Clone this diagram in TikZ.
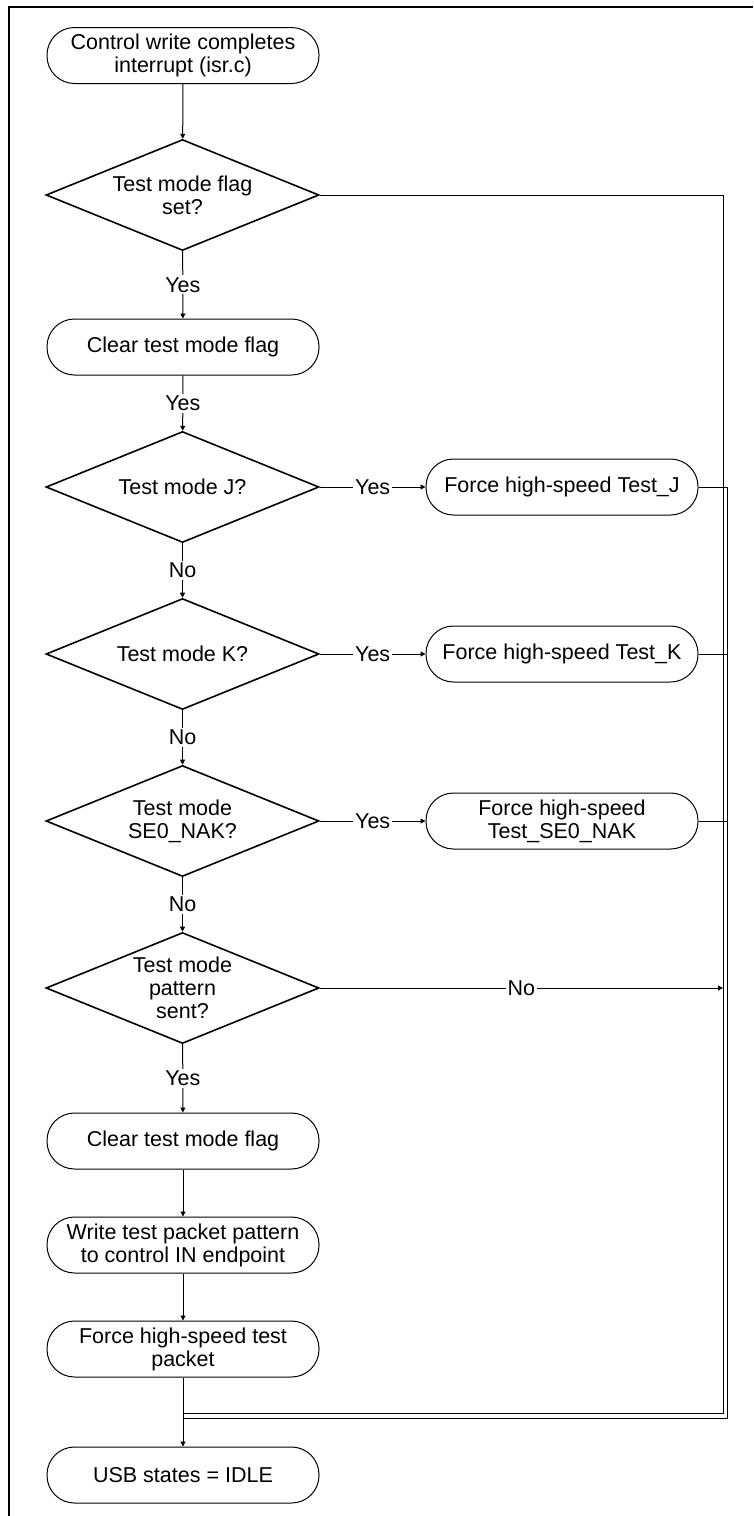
\documentclass[tikz,border=0pt]{standalone}
\usepackage{fontspec}
\setmainfont{Liberation Sans}
\usetikzlibrary{shapes.geometric,arrows.meta}
\begin{document}
\begin{tikzpicture}[x=1pt,y=-1pt,
  font=\fontsize{21.5}{23}\selectfont,
  term/.style={draw,line width=1pt,rounded corners=27.5pt,minimum width=272pt,
    minimum height=56pt,inner sep=0pt,align=center},
  decision/.style={draw,line width=1.6pt,diamond,aspect=2.46,minimum width=273pt,
    minimum height=111pt,inner sep=0pt,align=center},
  flow/.style={line width=1pt},
  arr/.style={flow,-{Triangle[length=5pt,width=5pt]}},
  lbl/.style={fill=white,inner sep=2pt}
]
\useasboundingbox (0,0) rectangle (753,1516);
% page frame
\draw[line width=2pt] (9.3,1516) -- (9.3,7) -- (753,7);

% main column
\node[term] (start) at (183,55.5) {Control write completes\\interrupt (isr.c)};
\node[decision] (d1) at (182.5,195) {Test mode flag\\set?};
\node[term] (clr1) at (183,347) {Clear test mode flag};
\node[decision] (dj) at (182.5,487) {Test mode J?};
\node[decision] (dk) at (182.5,654) {Test mode K?};
\node[decision] (dse) at (182.5,821) {Test mode\\SE0\_NAK?};
\node[decision] (dp) at (182.5,988) {Test mode\\pattern\\sent?};
\node[term] (clr2) at (183,1141) {Clear test mode flag};
\node[term] (wr) at (183,1245) {Write test packet pattern\\to control IN endpoint};
\node[term] (fp) at (183,1349) {Force high-speed test\\packet};
\node[term] (idle) at (183,1475) {USB states = IDLE};

% test mode actions
\node[term] (fj) at (562,487) {Force high-speed Test\_J};
\node[term] (fk) at (562,654) {Force high-speed Test\_K};
\node[term] (fse) at (562,821) {Force high-speed\\Test\_SE0\_NAK};

% return bus corners
\coordinate (ra) at (723,1413);
\coordinate (rb) at (727,1418);

% vertical flow
\draw[arr] (start) -- (d1);
\draw[arr] (d1) -- node[lbl]{Yes} (clr1);
\draw[arr] (clr1) -- node[lbl]{Yes} (dj);
\draw[arr] (dj) -- node[lbl]{No} (dk);
\draw[arr] (dk) -- node[lbl]{No} (dse);
\draw[arr] (dse) -- node[lbl]{No} (dp);
\draw[arr] (dp) -- node[lbl]{Yes} (clr2);
\draw[arr] (clr2) -- (wr);
\draw[arr] (wr) -- (fp);
\draw[arr] (fp) -- (idle);

% branches to the right
\draw[arr] (dj) -- node[lbl]{Yes} (fj);
\draw[arr] (dk) -- node[lbl]{Yes} (fk);
\draw[arr] (dse) -- node[lbl]{Yes} (fse);

% return lines
\draw[flow] (d1.east) -| (ra) -- (ra -| fp);
\draw[flow] (fj.east) -| (rb) -- (rb -| fp);
\draw[flow] (fk.east) -- (fk.east -| rb);
\draw[flow] (fse.east) -- (fse.east -| rb);
\draw[arr] (dp.east) -- node[lbl]{No} (dp.east -| ra);
\end{tikzpicture}
\end{document}
